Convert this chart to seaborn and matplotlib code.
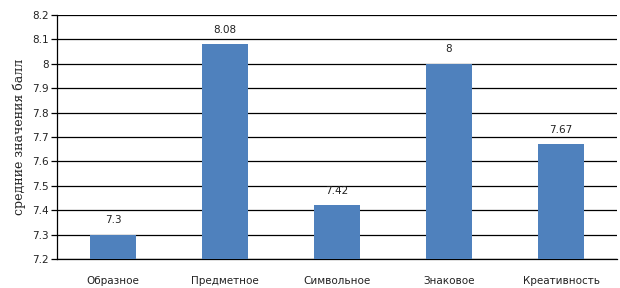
import matplotlib
matplotlib.use("Agg")
import matplotlib.pyplot as plt
import seaborn as sns
import pandas as pd

categories = ["Образное", "Предметное", "Символьное", "Знаковое", "Креативность"]
values = [7.3, 8.08, 7.42, 8.0, 7.67]
value_labels = ["7.3", "8.08", "7.42", "8", "7.67"]
y_ticks = [7.2, 7.3, 7.4, 7.5, 7.6, 7.7, 7.8, 7.9, 8.0, 8.1, 8.2]
y_tick_labels = ["7.2", "7.3", "7.4", "7.5", "7.6", "7.7", "7.8", "7.9", "8", "8.1", "8.2"]

df = pd.DataFrame({"cat": categories, "val": values})

sns.set_style("white")
plt.rcParams["font.family"] = ["DejaVu Sans"]

fig = plt.figure(figsize=(6.2, 2.88), dpi=100)
ax = fig.add_axes([57 / 620, 29 / 288, 560 / 620, 244 / 288])

sns.barplot(data=df, x="cat", y="val", color="#4F81BD", saturation=1, width=0.41,
            linewidth=0, edgecolor="none", ax=ax, zorder=3)

ax.set_ylim(7.2, 8.2)
ax.set_yticks(y_ticks)
ax.set_yticklabels(y_tick_labels, fontsize=7.5, color="#222222")
ax.yaxis.grid(True, color="black", linewidth=0.9, zorder=0)
ax.set_axisbelow(True)
ax.tick_params(axis="y", length=4, width=0.9, color="black", direction="out", pad=2, left=True)
ax.tick_params(axis="x", length=0, pad=12, labelsize=7.5, labelcolor="#222222")

for side in ["top", "right"]:
    ax.spines[side].set_visible(False)
ax.spines["left"].set_color("black")
ax.spines["bottom"].set_color("black")
ax.spines["left"].set_linewidth(0.9)
ax.spines["bottom"].set_linewidth(0.9)

ax.bar_label(ax.containers[0], labels=value_labels, padding=7, fontsize=7.5, color="#222222")

ax.set_xlabel("")
ax.set_ylabel("средние значения балл", family="DejaVu Serif", fontsize=9, labelpad=4,
              color="#222222")

fig.savefig("out.png", dpi=100)
